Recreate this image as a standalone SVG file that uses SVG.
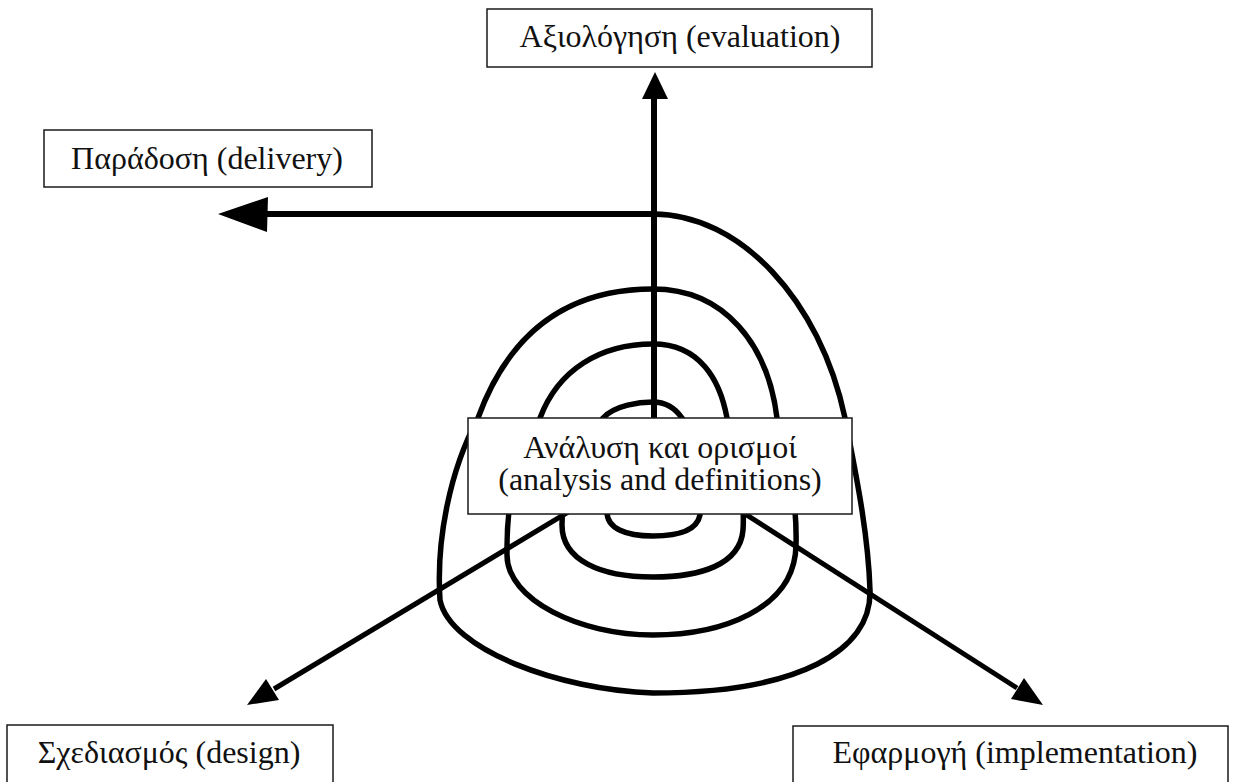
<svg xmlns="http://www.w3.org/2000/svg" width="1234" height="782" viewBox="0 0 1234 782">
  <style>
    .box { fill: #ffffff; stroke: #1a1a1a; stroke-width: 1.5; }
    .lbl { font-family: "Liberation Serif", "Times New Roman", serif; font-size: 32px; fill: #111111; text-anchor: middle; }
    .thick { fill: none; stroke: #000000; stroke-width: 6; }
    .spiral { fill: none; stroke: #000000; stroke-width: 5.5; stroke-linejoin: round; }
    .ray { fill: none; stroke: #000000; stroke-width: 5; }
    .head { fill: #000000; stroke: none; }
  </style>

  <g id="connectors">
    <!-- spiral, starting at the delivery line and winding inwards -->
    <path class="spiral" d="M653,214
      C 740,214 820,300 845,418
      C 855,470 868,530 870,590
      C 872,650 800,693 653,693
      C 560,690 450,650 440,600
      C 436,540 450,470 478,418
      C 510,330 570,289 653,289
      C 725,289 768,345 777,418
      C 792,470 797,510 796,545
      C 795,610 720,635 653,635
      C 580,635 507,600 507,555
      C 506,480 525,445 540,418
      C 558,370 600,344 653,344
      C 700,344 720,380 727,418
      C 738,460 745,500 743,530
      C 740,565 700,577 653,577
      C 600,577 562,560 562,525
      C 562,480 585,440 603,418
      C 615,405 640,402 653,402
      C 665,402 675,408 682,418
      C 695,440 703,490 700,515
      C 697,530 680,536 653,536
      C 625,536 607,528 607,512
      L 607,490"/>

    <!-- evaluation arrow (up) -->
    <line class="thick" x1="654" y1="440" x2="654" y2="96"/>
    <polygon class="head" points="655,72 668,99 642,99"/>

    <!-- delivery arrow (left) -->
    <line class="thick" x1="656" y1="214" x2="266" y2="214"/>
    <polygon class="head" points="218,214 268,197 267,232"/>

    <!-- design arrow (down-left) -->
    <line class="ray" x1="653" y1="461" x2="274" y2="689"/>
    <polygon class="head" points="247,705 266,679 279,700"/>

    <!-- implementation arrow (down-right) -->
    <line class="ray" x1="653" y1="455" x2="1017" y2="688"/>
    <polygon class="head" points="1043,705 1011,699 1024,678"/>
  </g>

  <g id="evaluation">
    <rect class="box" x="487" y="9" width="385" height="58"/>
    <text class="lbl" x="680" y="47">Αξιολόγηση (evaluation)</text>
  </g>

  <g id="delivery">
    <rect class="box" x="44" y="130" width="328" height="57"/>
    <text class="lbl" x="207" y="169">Παράδοση (delivery)</text>
  </g>

  <g id="analysis">
    <rect class="box" x="468" y="418" width="384" height="96"/>
    <text class="lbl" x="660" y="458">Ανάλυση και ορισμοί</text>
    <text class="lbl" x="660" y="490">(analysis and definitions)</text>
  </g>

  <g id="design">
    <rect class="box" x="7" y="725" width="326" height="80"/>
    <text class="lbl" x="169" y="763">Σχεδιασμός (design)</text>
  </g>

  <g id="implementation">
    <rect class="box" x="793" y="726" width="435" height="80"/>
    <text class="lbl" x="1015" y="763">Εφαρμογή (implementation)</text>
  </g>
</svg>
